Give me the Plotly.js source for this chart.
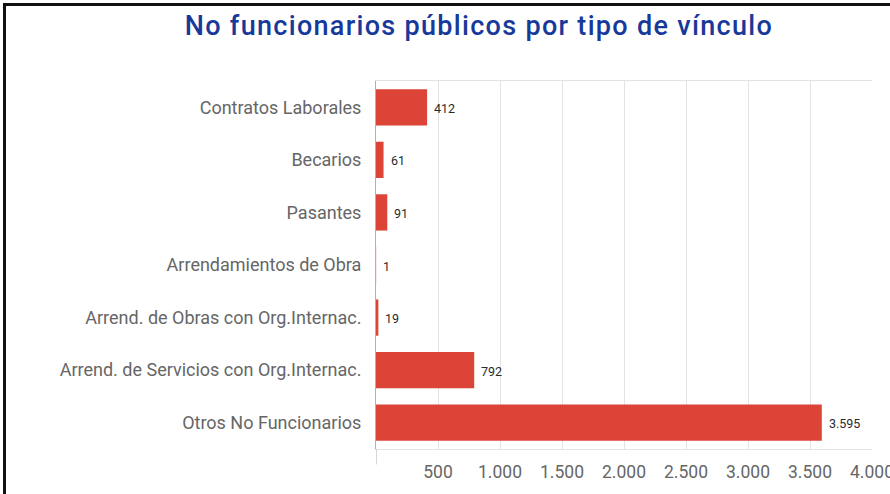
<!DOCTYPE html>
<html>
<head>
<meta charset="utf-8">
<script src="https://cdn.plot.ly/plotly-3.0.1.min.js"></script>
<style>
  html, body { margin: 0; padding: 0; background: #fff; width: 890px; height: 494px; overflow: hidden; }
  #frame { position: absolute; left: 3px; top: 3px; width: 887px; height: 488px;
           border-top: 3px solid #111; border-left: 3px solid #111; border-bottom: 2px solid #b5b5b5; }
  #chart { position: absolute; left: 0; top: 0; width: 884px; height: 485px; }
  #chart .gtitle { letter-spacing: 1.3px; }
</style>
</head>
<body>
<div id="frame"><div id="chart"></div></div>
<script>
const categories = [
  "Contratos Laborales",
  "Becarios",
  "Pasantes",
  "Arrendamientos de Obra",
  "Arrend. de Obras con Org.Internac.",
  "Arrend. de Servicios con Org.Internac.",
  "Otros No Funcionarios"
];
const values = [412, 61, 91, 1, 19, 792, 3595];
const valueLabels = ["412", "61", "91", "1", "19", "792", "3.595"];
const xTickVals = [500, 1000, 1500, 2000, 2500, 3000, 3500, 4000];
const xTickText = ["500", "1.000", "1.500", "2.000", "2.500", "3.000", "3.500", "4.000"];
const titleText = "No funcionarios públicos por tipo de vínculo";

const trace = {
  type: "bar",
  orientation: "h",
  y: categories,
  x: values,
  marker: { color: "#db4437" },
  hoverinfo: "none"
};

const annotations = categories.map((c, i) => ({
  x: values[i], y: c, xref: "x", yref: "y",
  text: valueLabels[i], showarrow: false,
  xanchor: "left", yanchor: "middle", xshift: 5, yshift: -1,
  font: { family: "Roboto, sans-serif", size: 12.5, color: "#2a2a2a" }
}));

const layout = {
  width: 884,
  height: 485,
  margin: { l: 370, r: 18, t: 75, b: 42 },
  paper_bgcolor: "#fff",
  plot_bgcolor: "#fff",
  showlegend: false,
  bargap: 0.31,
  title: {
    text: titleText,
    font: { family: "Roboto, sans-serif", size: 27, color: "#17399a", weight: 500 },
    xref: "container", x: 0.535, xanchor: "center",
    yref: "container", y: 0.96, yanchor: "middle"
  },
  xaxis: {
    range: [0, 4000],
    tickvals: xTickVals,
    ticktext: xTickText,
    ticklabeloverflow: "allow",
    showgrid: true,
    gridcolor: "#e3e3e3",
    gridwidth: 1,
    zeroline: false,
    showline: true,
    mirror: true,
    linecolor: "#e3e3e3",
    linewidth: 1,
    ticks: "",
    ticklabelstandoff: 7,
    tickfont: { family: "Roboto, sans-serif", size: 17.5, color: "#666" },
    fixedrange: true
  },
  yaxis: {
    type: "category",
    autorange: "reversed",
    showgrid: false,
    zeroline: false,
    showline: true,
    linecolor: "#b0b0b0",
    linewidth: 1,
    ticks: "",
    ticklabelstandoff: 10,
    tickfont: { family: "Roboto, sans-serif", size: 18, color: "#666" },
    fixedrange: true
  },
  annotations: annotations,
  shapes: [
    { type: "line", xref: "x", yref: "paper", x0: 0, x1: 0, y0: 0, y1: -0.042,
      line: { color: "#b0b0b0", width: 1 } }
  ]
};

Plotly.newPlot("chart", [trace], layout, { displayModeBar: false, staticPlot: true });
</script>
</body>
</html>
